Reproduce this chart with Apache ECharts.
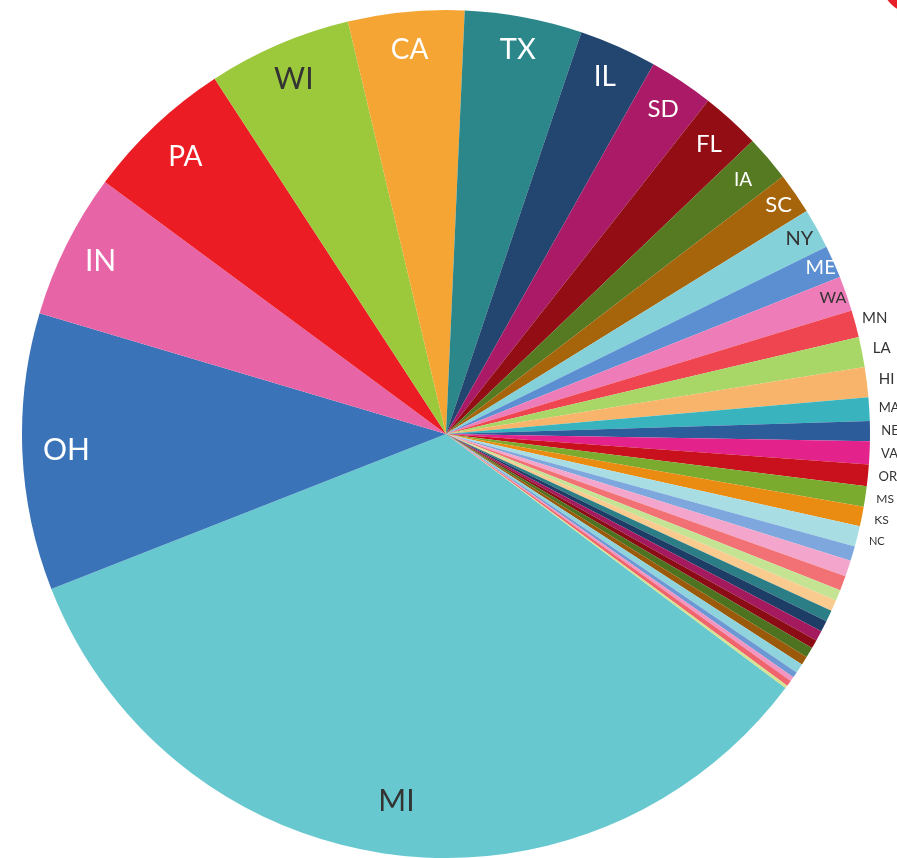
<!DOCTYPE html>
<html>
<head>
<meta charset="utf-8">
<script src="https://cdn.jsdelivr.net/npm/echarts@6/dist/echarts.min.js"></script>
<style>
  html, body { margin: 0; padding: 0; background: #ffffff; }
  #chart { width: 897px; height: 858px; }
</style>
</head>
<body>
<div id="chart"></div>
<script>
// Share of total by state (percent), largest first; the unnamed tail holds the smallest states
const states = [
  'MI', 'OH', 'IN', 'PA', 'WI', 'CA', 'TX', 'IL', 'SD', 'FL',
  'IA', 'SC', 'NY', 'ME', 'WA', 'MN', 'LA', 'HI', 'MA', 'NE',
  'VA', 'OR', 'MS', 'KS', 'NC',
  '', '', '', '', '', '', '', '', '', '', '', '', '', '', '', ''
];
const shares = [
  33.83, 10.56, 5.53, 5.69, 5.47, 4.42, 4.47, 2.97, 2.47, 2.25,
  1.75, 1.58, 1.53, 1.25, 1.33, 1.03, 1.15, 1.14, 0.90, 0.76,
  0.87, 0.82, 0.78, 0.75, 0.78,
  0.56, 0.61, 0.56, 0.42, 0.42, 0.44, 0.42, 0.39, 0.33, 0.39,
  0.33, 0.36, 0.22, 0.17, 0.22, 0.11
];

// Slice palette, one colour per slice in drawing order
const sliceColors = [
  '#67c8cf', '#3a73b8', '#e765a6', '#ec1c24', '#9bc93b', '#f4a534', '#2c878b', '#22466f', '#aa1a66', '#930d15',
  '#557a22', '#a6640b', '#84d1d9', '#5b8fd2', '#ed7cb8', '#ef4550', '#a8d767', '#f7b46a', '#39b4be', '#2d5c9a',
  '#e3238b', '#c9101d', '#7aab2f', '#ea8c12', '#a7dde3',
  '#7ea7dd', '#f3a5cb', '#f27174', '#c4e393', '#f9cb8f', '#2b7e86', '#1e3d66', '#a5195e', '#8c0c15', '#4e7320',
  '#9b5a09', '#8fd4dd', '#6c98d3', '#f195c2', '#f0646e', '#d5e28f'
];

// Label styling per state
const labelSize = {
  MI: 30, OH: 30, IN: 30, PA: 28, WI: 30, CA: 28, TX: 29, IL: 28, SD: 24, FL: 24,
  IA: 19, SC: 22, NY: 20, ME: 20, WA: 16,
  MN: 15, LA: 15, HI: 15, MA: 13, NE: 13, VA: 13, OR: 13, MS: 12, KS: 12, NC: 11
};
const darkLabels = ['MI', 'WI', 'NY', 'WA', 'MN', 'LA', 'HI', 'MA', 'NE', 'VA', 'OR', 'MS', 'KS', 'NC'];

// Rings on which the labels sit (label drawn at the ring's mid radius)
const labelRings = [
  { radius: [358, 378], names: ['MI'] },
  { radius: [367, 387], names: ['OH', 'PA'] },
  { radius: [373, 393], names: ['IN', 'WI', 'CA'] },
  { radius: [378, 398], names: ['TX', 'IL', 'SD', 'FL', 'IA'] },
  { radius: [391, 411], names: ['SC', 'NY'] },
  { radius: [397, 417], names: ['ME', 'WA'] },
  { radius: [431, 451], names: ['MN', 'LA', 'HI', 'MA', 'NE', 'VA', 'OR', 'MS', 'KS', 'NC'] }
];

const CENTER = [446, 434];
const START = -36.8;
const FONT = 'Lato, "Open Sans", sans-serif';

const mainSeries = {
  type: 'pie',
  center: CENTER,
  radius: [0, 424],
  startAngle: START,
  clockwise: true,
  avoidLabelOverlap: false,
  silent: true,
  label: { show: false },
  labelLine: { show: false },
  itemStyle: { borderWidth: 0 },
  emphasis: { disabled: true },
  data: states.map((name, i) => ({
    name: name,
    value: shares[i],
    itemStyle: { color: sliceColors[i] }
  }))
};

const labelSeries = labelRings.map(ring => ({
  type: 'pie',
  center: CENTER,
  radius: ring.radius,
  startAngle: START,
  clockwise: true,
  avoidLabelOverlap: false,
  silent: true,
  z: 5,
  itemStyle: { color: 'rgba(0,0,0,0)', borderWidth: 0 },
  emphasis: { disabled: true },
  labelLine: { show: false },
  label: { show: false },
  data: states.map((name, i) => ({
    name: name,
    value: shares[i],
    label: ring.names.includes(name) ? {
      show: true,
      position: 'inside',
      formatter: '{b}',
      fontFamily: FONT,
      fontSize: labelSize[name],
      color: darkLabels.includes(name) ? '#333333' : '#ffffff'
    } : { show: false }
  }))
}));

const chart = echarts.init(document.getElementById('chart'), null, { renderer: 'canvas' });
chart.setOption({
  backgroundColor: '#ffffff',
  animation: false,
  graphic: [{
    type: 'circle',
    shape: { cx: 915, cy: -20, r: 34 },
    style: { fill: '#e8202a' }
  }],
  series: [mainSeries].concat(labelSeries)
});
</script>
</body>
</html>
